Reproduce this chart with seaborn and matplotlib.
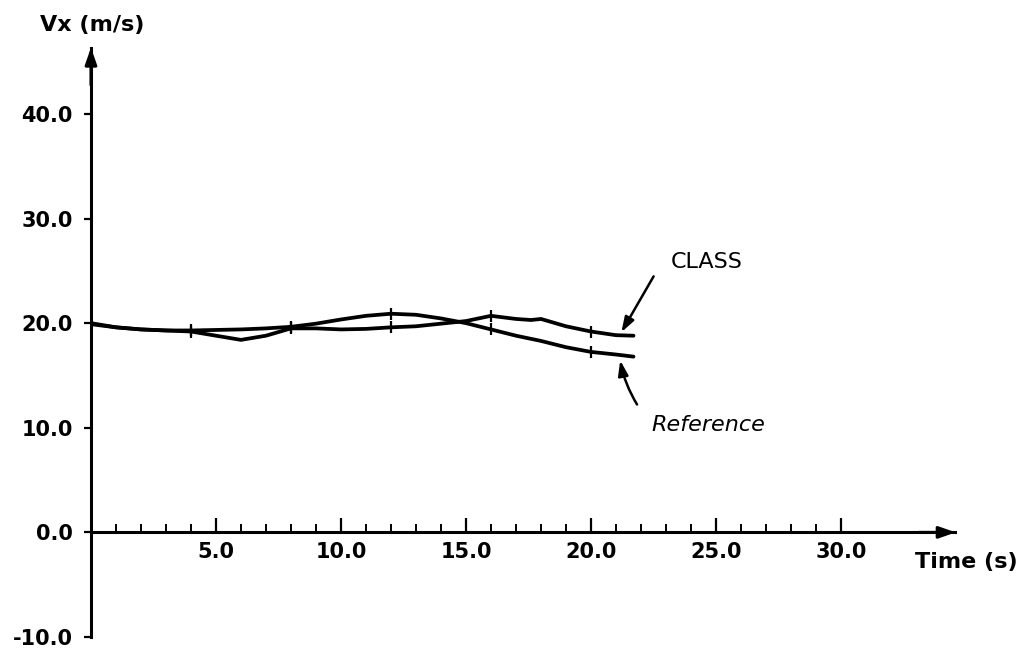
import numpy as np
import pandas as pd
import matplotlib
matplotlib.use("Agg")
import matplotlib.pyplot as plt
import seaborn as sns

# ---- data ----
t_class = [0, 1, 2, 3, 4, 5, 6, 7, 8, 9, 10, 11, 12, 13, 14, 15, 16, 17, 17.6, 18, 19, 20, 21, 21.7]
v_class = [20.0, 19.6, 19.4, 19.3, 19.2, 18.8, 18.4, 18.8, 19.5, 19.5, 19.4, 19.45, 19.6, 19.7,
           19.95, 20.2, 20.7, 20.4, 20.3, 20.4, 19.7, 19.2, 18.85, 18.8]
t_ref = [0, 1, 2, 3, 4, 5, 6, 7, 8, 9, 10, 11, 12, 13, 14, 15, 16, 17, 18, 19, 20, 21, 21.7]
v_ref = [19.9, 19.6, 19.4, 19.3, 19.3, 19.35, 19.4, 19.5, 19.65, 19.95, 20.35, 20.7, 20.9, 20.8,
         20.45, 20.0, 19.4, 18.8, 18.3, 17.7, 17.25, 17.0, 16.8]
mark_times = [4, 8, 12, 16, 20]

x_major = [5, 10, 15, 20, 25, 30]
x_major_labels = ["5.0", "10.0", "15.0", "20.0", "25.0", "30.0"]
y_ticks = [-10, 0, 10, 20, 30, 40]
y_tick_labels = ["-10.0", "0.0", "10.0", "20.0", "30.0", "40.0"]

df = pd.concat([
    pd.DataFrame({"t": t_class, "v": v_class, "series": "CLASS"}),
    pd.DataFrame({"t": t_ref, "v": v_ref, "series": "Reference"}),
], ignore_index=True)
marks = df[df["t"].isin(mark_times)]

sns.set_style("white")
plt.rcParams["font.family"] = ["DejaVu Sans"]
plt.rcParams["text.color"] = "black"
plt.rcParams["xtick.color"] = "black"
plt.rcParams["ytick.color"] = "black"
plt.rcParams["xtick.labelcolor"] = "black"
plt.rcParams["ytick.labelcolor"] = "black"

fig = plt.figure(figsize=(10.35, 6.53), dpi=100)
ax = fig.add_axes([0.0879, 0.0245, 0.8348, 0.902])

sns.lineplot(data=df, x="t", y="v", hue="series", palette={"CLASS": "black", "Reference": "black"},
             estimator=None, sort=False, linewidth=2.7, legend=False, ax=ax)
sns.scatterplot(data=marks, x="t", y="v", marker="|", s=70, color="black", linewidth=1.6,
                legend=False, ax=ax)

ax.set_xlim(0, 34.56)
ax.set_ylim(-10, 46.3)
for s in ["top", "right"]:
    ax.spines[s].set_visible(False)
ax.spines["left"].set_position(("data", 0))
ax.spines["bottom"].set_position(("data", 0))
for s in ["left", "bottom"]:
    ax.spines[s].set_linewidth(2.2)
    ax.spines[s].set_color("black")

ax.set_xticks(x_major)
ax.set_xticklabels(x_major_labels)
ax.set_xticks([i for i in range(1, 30) if i % 5], minor=True)
ax.set_yticks(y_ticks)
ax.set_yticklabels(y_tick_labels)
ax.tick_params(axis="x", which="major", direction="in", length=10, width=1.6, pad=7,
               labelsize=15, bottom=True, colors="black")
ax.tick_params(axis="x", which="minor", direction="in", length=5.5, width=1.4, bottom=True,
               colors="black")
ax.tick_params(axis="y", which="major", direction="out", length=5, width=1.6, pad=8,
               labelsize=15, left=True, colors="black")
for lab in ax.get_xticklabels() + ax.get_yticklabels():
    lab.set_fontweight("bold")
ax.set_xlabel("")
ax.set_ylabel("")

# axis arrow heads
ax.annotate("", xy=(34.7, 0), xytext=(33.0, 0), annotation_clip=False,
            arrowprops=dict(arrowstyle="-|>,head_length=1.0,head_width=0.35", color="black", lw=2.2))
ax.annotate("", xy=(0, 46.6), xytext=(0, 42.5), annotation_clip=False,
            arrowprops=dict(arrowstyle="-|>,head_length=1.0,head_width=0.35", color="black", lw=2.2))

# labels
fig.text(40 / 1035, 1 - 25 / 653, "Vx (m/s)", ha="left", va="center", fontsize=16,
         fontweight="bold", color="black")
fig.text(915 / 1035, 1 - 562 / 653, "Time (s)", ha="left", va="center", fontsize=16,
         fontweight="bold", color="black")

# curve annotations
ax.text(23.2, 25.8, "CLASS", ha="left", va="center", fontsize=16, color="black")
ax.annotate("", xy=(21.16, 18.9), xytext=(22.56, 24.7),
            arrowprops=dict(arrowstyle="-|>,head_length=0.9,head_width=0.3", color="black", lw=1.8))
ax.text(22.4, 10.3, "Reference", ha="left", va="center", fontsize=16, fontstyle="italic",
        color="black")
ax.annotate("", xy=(21.15, 16.7), xytext=(21.9, 12.0),
            arrowprops=dict(arrowstyle="-|>,head_length=0.9,head_width=0.3", color="black", lw=1.8,
                            connectionstyle="arc3,rad=-0.1"))

fig.savefig("out.png", dpi=100)
